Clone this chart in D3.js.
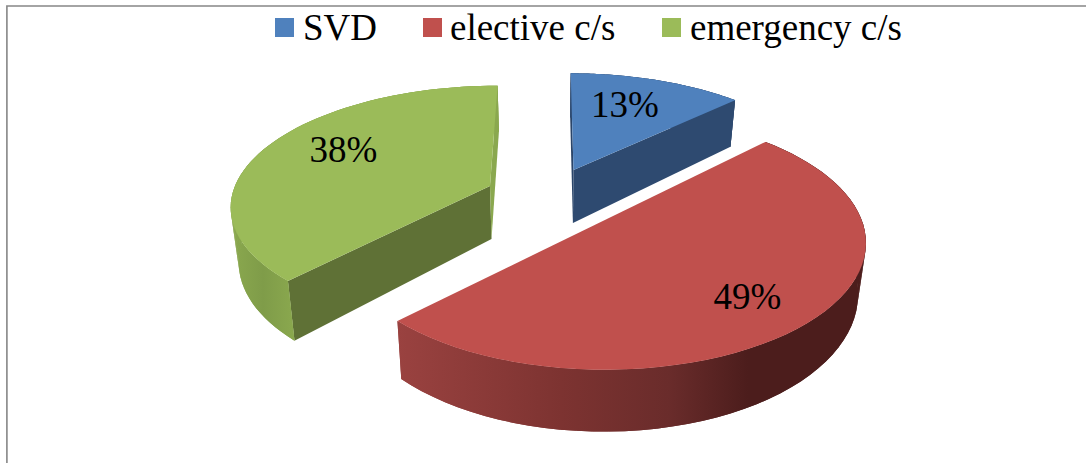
<!DOCTYPE html>
<html>
<head>
<meta charset="utf-8">
<style>html,body{margin:0;padding:0;background:#fff;overflow:hidden}svg{display:block}
text{font-family:"Liberation Serif","Times New Roman",Times,serif}</style>
<script src="https://cdn.jsdelivr.net/npm/d3@7/dist/d3.min.js"></script>
</head>
<body>
<svg id="c" width="1086" height="463"></svg>
<script>
const categories = ["SVD", "elective c/s", "emergency c/s"];
const percents = [13, 49, 38];
const topColors = ["#4f81bd", "#c0504d", "#9bbb59"];
const startFaceColors = ["#2b4569", "#6b2c2a", "#5f7136"];
const endFaceColors = ["#2e4a70", "#6b2c2a", "#8aa84f"];

// layout
const W = 1086, H = 463;
const vanishX = 550, depthShrink = 0.975;
const sliceGeom = [
  { ax: 573.5, ay: 170, sx: -2.8, rx: 255, ry: 116, k: 0.2, hz: 53 },
  { ax: 602, ay: 216, sx: -3, rx: 258, ry: 123, k: 0.2, hz: 49.5 },
  { ax: 490, ay: 186, sx: 7.6, rx: 255, ry: 115.7, k: 0.1535, hz: 53 }
];
const legendBoxX = [275, 423, 662], legendTextX = [303, 450, 690];
const labelPos = [[625, 117], [747.5, 309], [343.5, 162]];
const FS = 37;

const svg = d3.select("#c");
const defs = svg.append("defs");

const wallShade = [
  [[0, "#2e4a70"], [1, "#2e4a70"]],
  [[0, "#9a4240"], [0.35, "#7d3331"], [0.58, "#6a2c2b"], [0.75, "#4c1d1c"], [1, "#4c1d1c"]],
  [[0, "#8aa84e"], [0.5, "#7f9c49"], [1, "#8aa84e"]]
];
const wallX = [[570, 736], [397, 865], [232, 294]];
wallShade.forEach((stops, i) => {
  const g = defs.append("linearGradient").attr("id", "wall" + i)
    .attr("gradientUnits", "userSpaceOnUse")
    .attr("x1", wallX[i][0]).attr("x2", wallX[i][1]).attr("y1", 0).attr("y2", 0);
  stops.forEach(s => g.append("stop").attr("offset", s[0]).attr("stop-color", s[1]));
});

// chart frame
svg.append("path").attr("d", `M6.9,${H}V6H${W}`).attr("fill", "none").attr("stroke", "#868686").attr("stroke-width", 1.6);

const line = d3.line();
const pie = d3.pie().sort(null).value(d => d)(percents);

pie.forEach((arc, i) => {
  const s = sliceGeom[i];
  const pt = (a, r, b) => {
    const u = r * Math.sin(a), v = r * Math.cos(a), p = 1 / (1 + s.k * v);
    let X = s.ax + s.sx * v + s.rx * u * p, Y = s.ay - s.ry * v * p;
    if (b) { X = vanishX + (X - vanishX) * depthShrink; Y += s.hz * p; }
    return [X, Y];
  };
  const angles = d3.range(0, 61).map(j => arc.startAngle + (arc.endAngle - arc.startAngle) * j / 60);
  const g = svg.append("g");
  const apexT = pt(0, 0, false), apexB = pt(0, 0, true);
  const topArc = angles.map(a => pt(a, 1, false));
  const botArc = angles.map(a => pt(a, 1, true));
  // a near half-slice reads as a straight chord, and its cut faces stay hidden
  const nearHalf = arc.endAngle - arc.startAngle > 3;

  if (!nearHalf) {
    g.append("path").attr("d", line([apexT, topArc[0], botArc[0], apexB]) + "Z").attr("fill", startFaceColors[i]);
    g.append("path").attr("d", line([apexT, topArc[60], botArc[60], apexB]) + "Z").attr("fill", endFaceColors[i]);
  }
  // outer wall: an underlay, then one quad per step so the silhouette follows the tangent between rims
  g.append("path").attr("d", line(topArc.concat(botArc.slice().reverse())) + "Z").attr("fill", `url(#wall${i})`);
  g.selectAll("path.wall").data(d3.range(60)).join("path").attr("class", "wall")
    .attr("d", j => line([topArc[j], topArc[j + 1], botArc[j + 1], botArc[j]]) + "Z")
    .attr("fill", `url(#wall${i})`);
  g.append("path").attr("d", line(nearHalf ? topArc : [apexT].concat(topArc)) + "Z").attr("fill", topColors[i]);
});

percents.forEach((v, i) => {
  svg.append("text").attr("x", labelPos[i][0]).attr("y", labelPos[i][1])
    .attr("text-anchor", "middle").attr("font-size", FS).attr("fill", "#000")
    .text(v + "%");
});

categories.forEach((c, i) => {
  svg.append("rect").attr("x", legendBoxX[i]).attr("y", 18).attr("width", 19).attr("height", 19).attr("fill", topColors[i]);
  svg.append("text").attr("x", legendTextX[i]).attr("y", 39.5)
    .attr("font-size", FS).attr("fill", "#000").text(c);
});
</script>
</body>
</html>
